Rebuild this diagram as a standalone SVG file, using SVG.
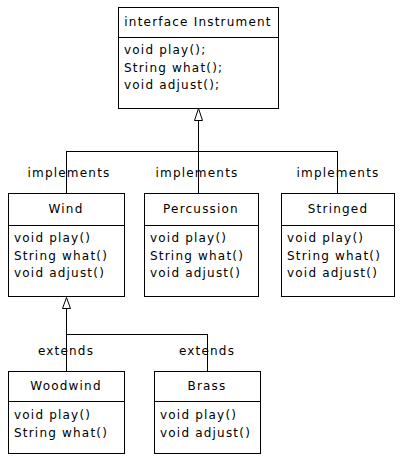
<svg xmlns="http://www.w3.org/2000/svg" width="402" height="462" viewBox="0 0 402 462">
<style>
.box{fill:#fff;stroke:#000;stroke-width:1}
.ln{stroke:#000;stroke-width:1;fill:none}
.tri{fill:#fff;stroke:#000;stroke-width:1}
text{font-family:"DejaVu Sans","Liberation Sans",sans-serif;font-size:12px;letter-spacing:1.2px;fill:#000}
.c{text-anchor:middle}
</style>
<rect width="402" height="462" fill="#fff"/>
<g id="connectors">
<line class="ln" x1="198.5" y1="120" x2="198.5" y2="193"/>
<line class="ln" x1="66.5" y1="151.5" x2="337.5" y2="151.5"/>
<line class="ln" x1="66.5" y1="151" x2="66.5" y2="193"/>
<line class="ln" x1="337.5" y1="151" x2="337.5" y2="193"/>
<polygon class="tri" points="198.5,108.5 194.5,120.5 202.5,120.5"/>
<text class="c" x="69" y="177">implements</text>
<text class="c" x="197" y="177">implements</text>
<text class="c" x="338" y="177">implements</text>
<line class="ln" x1="66.5" y1="308" x2="66.5" y2="371"/>
<line class="ln" x1="66.5" y1="334.5" x2="207.5" y2="334.5"/>
<line class="ln" x1="207.5" y1="334" x2="207.5" y2="371"/>
<polygon class="tri" points="66.5,297.5 62.5,308.5 70.5,308.5"/>
<text class="c" x="66" y="355">extends</text>
<text class="c" x="207" y="355">extends</text>
</g>
<g id="Instrument">
<rect class="box" x="118.5" y="7.5" width="160" height="101"/>
<line class="ln" x1="118.5" y1="37.5" x2="278.5" y2="37.5"/>
<text class="c" x="198" y="26">interface Instrument</text>
<text x="124" y="54">void play();</text>
<text x="124" y="71.5">String what();</text>
<text x="124" y="89">void adjust();</text>
</g>
<g id="Wind">
<rect class="box" x="8.5" y="193.5" width="116" height="103"/>
<line class="ln" x1="8.5" y1="225.5" x2="124.5" y2="225.5"/>
<text class="c" x="66" y="213">Wind</text>
<text x="14" y="242">void play()</text>
<text x="14" y="259.5">String what()</text>
<text x="14" y="277">void adjust()</text>
</g>
<g id="Percussion">
<rect class="box" x="144.5" y="193.5" width="114" height="103"/>
<line class="ln" x1="144.5" y1="225.5" x2="258.5" y2="225.5"/>
<text class="c" x="201" y="213">Percussion</text>
<text x="150" y="242">void play()</text>
<text x="150" y="259.5">String what()</text>
<text x="150" y="277">void adjust()</text>
</g>
<g id="Stringed">
<rect class="box" x="281.5" y="193.5" width="113" height="103"/>
<line class="ln" x1="281.5" y1="225.5" x2="394.5" y2="225.5"/>
<text class="c" x="338" y="213">Stringed</text>
<text x="287" y="242">void play()</text>
<text x="287" y="259.5">String what()</text>
<text x="287" y="277">void adjust()</text>
</g>
<g id="Woodwind">
<rect class="box" x="8.5" y="371.5" width="116" height="82"/>
<line class="ln" x1="8.5" y1="401.5" x2="124.5" y2="401.5"/>
<text class="c" x="66" y="390">Woodwind</text>
<text x="14" y="419">void play()</text>
<text x="14" y="436.5">String what()</text>
</g>
<g id="Brass">
<rect class="box" x="154.5" y="371.5" width="106" height="82"/>
<line class="ln" x1="154.5" y1="401.5" x2="260.5" y2="401.5"/>
<text class="c" x="207" y="390">Brass</text>
<text x="160" y="419">void play()</text>
<text x="160" y="436.5">void adjust()</text>
</g>
</svg>
